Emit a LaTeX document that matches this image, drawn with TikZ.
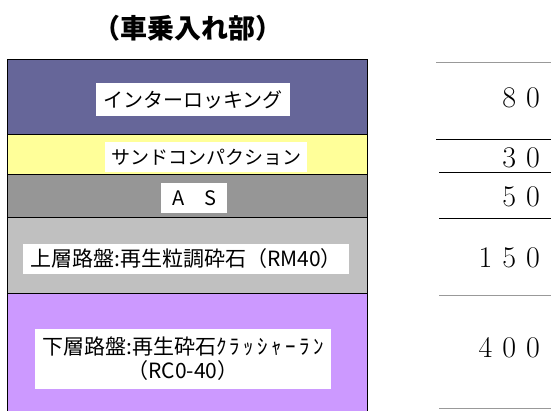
\documentclass[tikz,border=0pt]{standalone}
\usepackage{fontspec}
\newfontfamily\jp{Noto Sans CJK JP}
\newfontfamily\jpwide[LetterSpace=16]{Noto Sans CJK JP}
\usetikzlibrary{positioning}

\definecolor{paver}{RGB}{102,102,153}
\definecolor{sandc}{RGB}{255,255,153}
\definecolor{asc}{RGB}{150,150,150}
\definecolor{upperc}{RGB}{192,192,192}
\definecolor{lowerc}{RGB}{204,153,255}

\tikzstyle{layer} = [
    rectangle,
    minimum width=360pt,
    outer sep=0pt,
    inner sep=0pt,
    draw=black,
    line width=0.9pt
]
\tikzstyle{tag} = [
    rectangle,
    anchor=west,
    fill=white,
    inner xsep=7pt,
    inner ysep=0pt,
    minimum height=30pt,
    font=\jp\fontsize{21}{24}\selectfont
]
\tikzstyle{num} = [
    anchor=east,
    inner sep=0pt,
    font=\fontsize{30}{34}\selectfont
]
\tikzstyle{rule} = [line width=0.9pt]
\tikzstyle{softrule} = [line width=0.9pt, draw=black!40]

\begin{document}
\begin{tikzpicture}[x=1pt, y=-1pt]

\useasboundingbox (0,0) rectangle (551,411);
\clip (0,0) rectangle (551,411);

\node (title) at (188,28) [font=\jp\bfseries\fontsize{27}{30}\selectfont]
{（車乗入れ部）};

% layers
\node (inter) [layer, fill=paver, minimum height=75pt, anchor=north west] at (7,59) {};
\node (sand) [layer, fill=sandc, minimum height=40pt, below=0pt of inter] {};
\node (as) [layer, fill=asc, minimum height=43pt, below=0pt of sand] {};
\node (upper) [layer, fill=upperc, minimum height=76pt, below=0pt of as] {};
\node (lower) [layer, fill=lowerc, minimum height=120pt, below=0pt of upper] {};

% labels
\node (interT) [tag, minimum height=33pt, font=\jp\fontsize{20}{24}\selectfont] at (96,99.5) {インターロッキング};
\node (sandT) [tag, inner xsep=6pt, font=\jp\fontsize{19}{23}\selectfont] at (105,157) {サンドコンパクション};
\node (asT) [tag, inner xsep=4pt, minimum width=66pt, font=\jp\fontsize{20}{24}\selectfont] at (161,198) {A　S};
\node (upperT) [tag] at (23,259) {上層路盤:再生粒調砕石（RM40）};
\node (lowerT) [tag, align=center, minimum height=60pt, minimum width=295pt] at (35,359)
{下層路盤:再生砕石{\jpwide ｸﾗｯｼｬｰﾗﾝ}\\（RC0-40）};

% thicknesses
\node (n80) [num] at (540,98) {8\hspace{0.33em}0};
\node (n30) [num] at (540,158) {3\hspace{0.33em}0};
\node (n50) [num] at (540,197) {5\hspace{0.33em}0};
\node (n150) [num] at (540,258) {1\hspace{0.33em}5\hspace{0.33em}0};
\node (n400) [num] at (540,348) {4\hspace{0.33em}0\hspace{0.33em}0};

\coordinate (r0) at (436,62);
\coordinate (r1) at (436,139);
\coordinate (r2) at (439,172);
\coordinate (r3) at (439,218);
\coordinate (r4) at (439,295);
\coordinate (r5) at (439,408);

\draw [softrule] (r0) -- (r0 -| 551,0);
\draw [rule] (r1) -- (r1 -| 551,0);
\draw [rule] (r2) -- (r2 -| 551,0);
\draw [rule] (r3) -- (r3 -| 551,0);
\draw [softrule] (r4) -- (r4 -| 551,0);
\draw [softrule] (r5) -- (r5 -| 551,0);

\end{tikzpicture}
\end{document}
